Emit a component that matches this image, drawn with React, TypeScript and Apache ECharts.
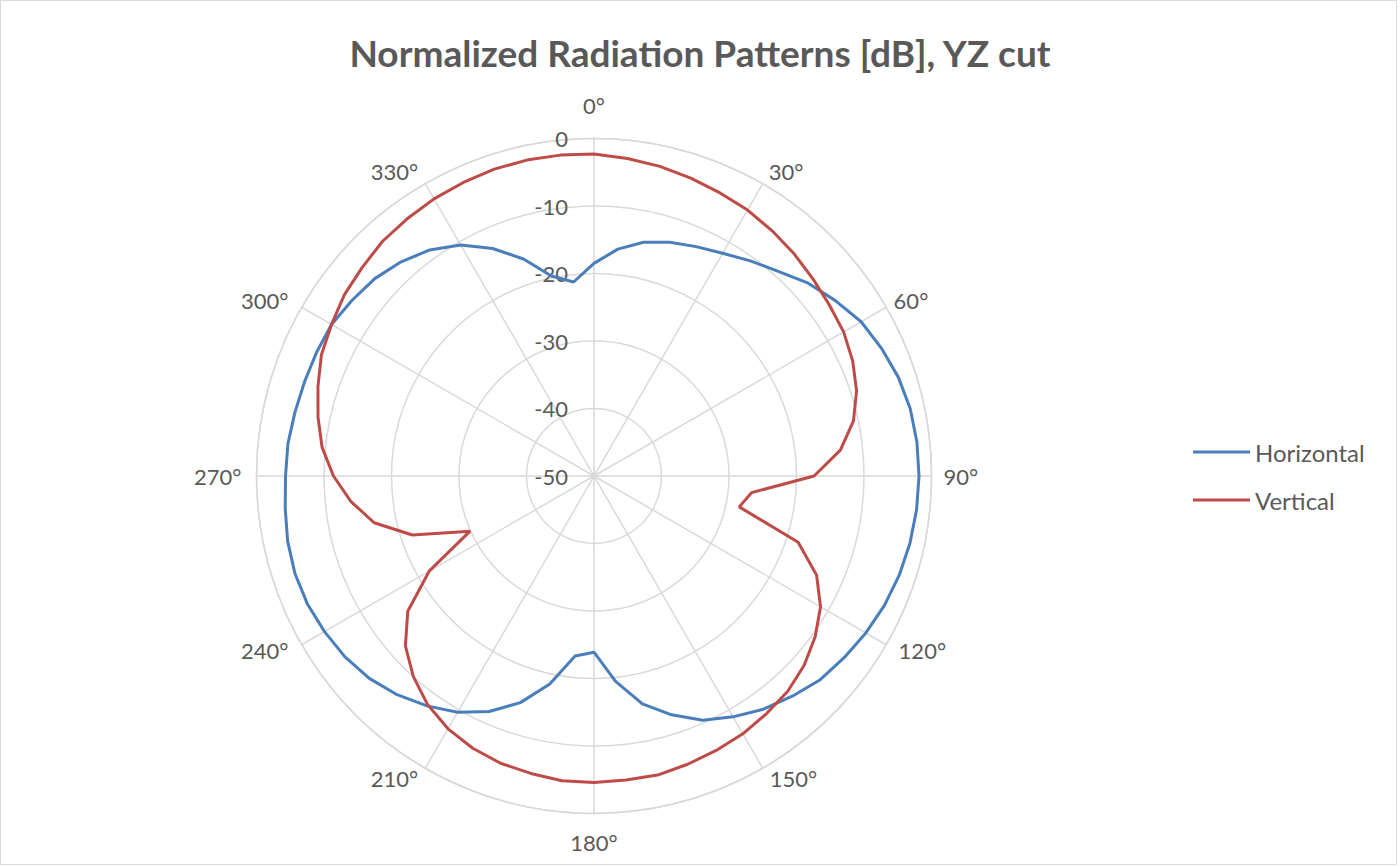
import React, { useEffect, useRef } from "react";
import * as echarts from "echarts";

const titleText = "Normalized Radiation Patterns [dB], YZ cut";
const seriesNames = ["Horizontal", "Vertical"];

const anglesDeg = [
  0, 6, 12, 18, 24, 30, 36, 42, 48, 54, 60, 66, 72, 78, 84, 90, 96, 102, 108, 114,
  120, 126, 132, 138, 144, 150, 156, 162, 168, 174, 180, 186, 192, 198, 204, 210, 216, 222, 228, 234,
  240, 246, 252, 258, 264, 270, 276, 282, 288, 294, 300, 306, 312, 318, 324, 330, 336, 342, 348, 354,
];

const horizontal = [
  -18.5, -16.2, -14.6, -13.6, -12.8, -11.9, -10.6, -9.2, -7.3, -5.8,
  -4.3, -3.4, -2.6, -2.1, -1.9, -1.85, -1.95, -2.15, -2.45, -2.9,
  -3.5, -4.2, -4.9, -6.1, -7.3, -8.8, -10.4, -12.8, -15.5, -19.4,
  -23.9, -23.2, -18.5, -14.7, -11.8, -9.6, -7.9, -6.4, -5.2, -4.4,
  -3.9, -3.5, -3.4, -3.6, -4.0, -4.3, -4.4, -4.7, -4.9, -5.0,
  -5.1, -5.7, -6.3, -7.3, -8.6, -10.5, -13.1, -16.2, -19.7, -21.1,
];

const vertical = [
  -2.3, -2.7, -3.1, -3.6, -4.1, -4.5, -5.1, -5.7, -6.35, -6.9,
  -7.3, -8.05, -9.1, -10.7, -13.3, -17.4, -26.5, -28.0, -18.2, -13.9,
  -11.25, -9.5, -8.1, -7.1, -6.5, -5.9, -5.5, -5.1, -4.7, -4.7,
  -4.6, -4.6, -4.95, -5.25, -5.85, -6.75, -8.1, -10.0, -12.4, -15.9,
  -21.8, -29.9, -21.7, -16.7, -13.8, -11.4, -9.5, -8.2, -7.0, -5.8,
  -5.1, -4.3, -3.8, -3.2, -2.9, -2.6, -2.4, -2.2, -2.15, -2.2,
];

const radiusMin = -50;
const radiusMax = 0;
const radiusStep = 10;
const angleStep = 30;

// label offsets (padding top, right, bottom, left) for each angle tick label
const angleLabelPadding: Record<number, number[]> = {
  0: [0, 0, 32, 0],
  30: [0, 0, 10, 11],
  60: [0, 0, 1, 16],
  90: [0, 0, 0, 22],
  120: [0, 0, 0, 21],
  150: [8, 0, 0, 12],
  180: [28, 0, 0, 0],
  210: [8, 12, 0, 0],
  240: [0, 22, 0, 0],
  270: [0, 25, 0, 0],
  300: [0, 22, 1, 0],
  330: [0, 12, 10, 0],
};

const closedLoop = (vals: number[]) => {
  const pts = anglesDeg.map((a, i) => [vals[i], a]);
  pts.push([vals[0], 360]);
  return pts;
};

export default function App() {
  const ref = useRef<HTMLDivElement>(null);
  useEffect(() => {
    if (!ref.current) return;
    const chart = echarts.init(ref.current, undefined, { renderer: "svg" });
    const font = "Lato, 'Open Sans', sans-serif";
    const grey = "#595959";
    const gridColor = "#d9d9d9";
    const rich: Record<string, any> = {};
    Object.keys(angleLabelPadding).forEach((k) => {
      rich["a" + k] = {
        color: grey,
        fontSize: 22,
        fontFamily: font,
        padding: angleLabelPadding[Number(k)],
      };
    });
    chart.setOption({
      animation: false,
      backgroundColor: "#ffffff",
      textStyle: { fontFamily: font },
      title: {
        text: titleText,
        left: "center",
        top: 29,
        textStyle: { fontFamily: font, fontSize: 37, fontWeight: "bold", color: grey },
      },
      legend: {
        orient: "vertical",
        left: 1193,
        top: 440,
        padding: 0,
        itemWidth: 57,
        itemHeight: 3,
        itemGap: 24,
        icon: "rect",
        textStyle: { fontFamily: font, fontSize: 24, lineHeight: 24, color: grey },
        data: seriesNames,
      },
      polar: { center: [594, 476], radius: 337.5 },
      angleAxis: {
        type: "value",
        min: 0,
        max: 360,
        interval: angleStep,
        startAngle: 90,
        clockwise: true,
        axisLine: { show: true, lineStyle: { color: gridColor, width: 1.5 } },
        axisTick: { show: false },
        axisLabel: {
          color: grey,
          fontSize: 22,
          fontFamily: font,
          margin: -10,
          formatter: (v: number) => (v === 360 ? "" : "{a" + v + "|" + v + "°}"),
          rich,
        },
        splitLine: { show: true, lineStyle: { color: gridColor, width: 1.5 } },
      },
      radiusAxis: {
        type: "value",
        min: radiusMin,
        max: radiusMax,
        interval: radiusStep,
        axisLine: { show: false },
        axisTick: { show: false },
        axisLabel: { color: grey, fontSize: 22, fontFamily: font, margin: 26 },
        splitLine: { show: true, lineStyle: { color: gridColor, width: 1.5 } },
      },
      graphic: [
        {
          type: "rect",
          shape: { x: 0.5, y: 0.5, width: 1396, height: 864 },
          style: { fill: "none", stroke: gridColor, lineWidth: 1 },
          silent: true,
        },
      ],
      series: [
        {
          name: seriesNames[0],
          type: "line",
          coordinateSystem: "polar",
          symbol: "none",
          lineStyle: { color: "#4a7ebb", width: 3 },
          itemStyle: { color: "#4a7ebb" },
          data: closedLoop(horizontal),
        },
        {
          name: seriesNames[1],
          type: "line",
          coordinateSystem: "polar",
          symbol: "none",
          lineStyle: { color: "#be4b48", width: 3 },
          itemStyle: { color: "#be4b48" },
          data: closedLoop(vertical),
        },
      ],
    });
    return () => chart.dispose();
  }, []);
  return (
    <div
      ref={ref}
      style={{ position: "fixed", left: 0, top: 0, width: 1400, height: 866 }}
    />
  );
}
